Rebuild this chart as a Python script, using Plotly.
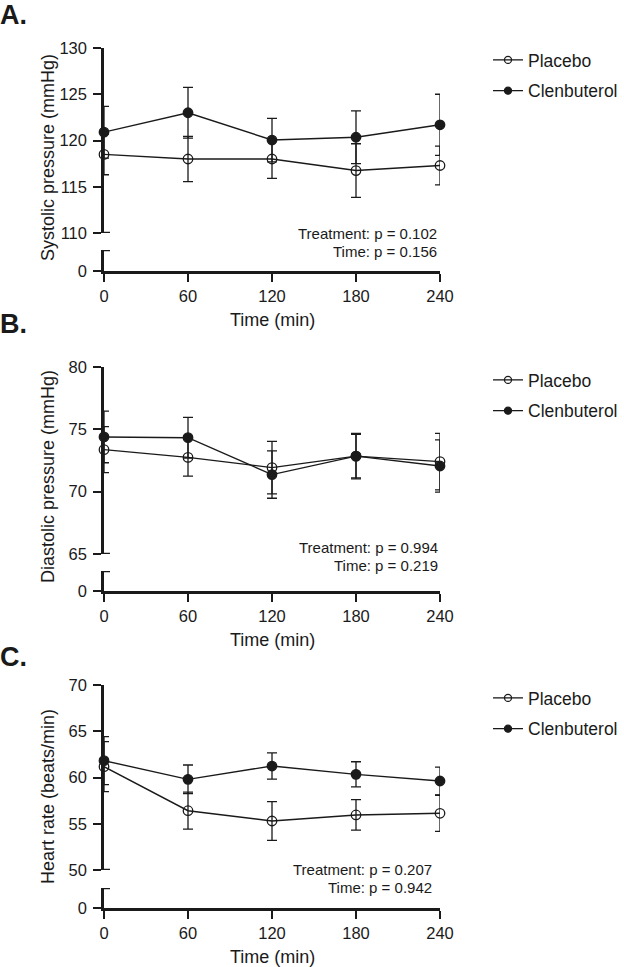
import plotly.graph_objects as go

W, H = 624, 967

time_min = [0, 60, 120, 180, 240]

# A. systolic pressure (mmHg)
sys_placebo = [118.5, 118.0, 118.0, 116.75, 117.3]
sys_placebo_sem = [2.2, 2.45, 2.1, 2.9, 2.1]
sys_clen = [120.9, 123.0, 120.05, 120.35, 121.7]
sys_clen_sem = [2.8, 2.75, 2.35, 2.85, 3.3]

# B. diastolic pressure (mmHg)
dia_placebo = [73.37, 72.75, 71.93, 72.85, 72.41]
dia_placebo_sem = [1.85, 1.5, 2.1, 1.75, 2.27]
dia_clen = [74.39, 74.33, 71.37, 72.85, 72.06]
dia_clen_sem = [2.07, 1.63, 1.9, 1.82, 2.09]

# C. heart rate (beats/min)
hr_placebo = [61.17, 56.41, 55.3, 55.95, 56.13]
hr_placebo_sem = [2.7, 2.0, 2.1, 1.65, 1.95]
hr_clen = [61.82, 59.8, 61.24, 60.34, 59.62]
hr_clen_sem = [2.6, 1.55, 1.42, 1.36, 1.5]

panel_letters = ["A.", "B.", "C."]
y_titles = ["Systolic pressure (mmHg)", "Diastolic pressure (mmHg)", "Heart rate (beats/min)"]
y_ranges = [(110, 130), (65, 80), (50, 70)]
p_treatment = ["0.102", "0.994", "0.207"]
p_time = ["0.156", "0.219", "0.942"]

FONT = "Liberation Sans, Arial, sans-serif"
INK = "#1a1a1a"


def fx(px):
    return px / W


def fy(py):
    return 1 - py / H


# pixel geometry of each panel: upper axis top/bottom, lower segment top/bottom
geom = [
    dict(up_top=48, up_bot=233, lo_top=250, lo_bot=271, letter_y=15, ytitle_y=158,
         xtitle_y=320, p_y=(233, 251), p_x=439, leg_y=62),
    dict(up_top=367, up_bot=554, lo_top=571, lo_bot=591, letter_y=324, ytitle_y=477,
         xtitle_y=640, p_y=(547, 565), p_x=440, leg_y=382),
    dict(up_top=685, up_bot=870, lo_top=888, lo_bot=908, letter_y=657, ytitle_y=797,
         xtitle_y=957, p_y=(869, 887), p_x=434, leg_y=700),
]

series = [
    (sys_placebo, sys_placebo_sem, sys_clen, sys_clen_sem),
    (dia_placebo, dia_placebo_sem, dia_clen, dia_clen_sem),
    (hr_placebo, hr_placebo_sem, hr_clen, hr_clen_sem),
]

fig = go.Figure()
layout = {}
shapes = []
annotations = []

x_dom = [fx(104), fx(440)]

for i in range(3):
    g = geom[i]
    xn = "" if i == 0 else str(i + 1)
    yu = str(2 * i + 1) if i > 0 else ""
    yl = str(2 * i + 2)
    xref, yuref, ylref = "x" + xn, "y" + yu, "y" + yl
    leg = "legend" if i == 0 else "legend" + str(i + 1)

    pl, pl_e, cl, cl_e = series[i]
    for name, vals, err, sym in [
        ("Placebo", pl, pl_e, "circle-open"),
        ("Clenbuterol", cl, cl_e, "circle"),
    ]:
        fig.add_trace(go.Scatter(
            x=time_min, y=vals, mode="lines+markers", name=name,
            xaxis=xref, yaxis=yuref, showlegend=False, cliponaxis=False,
            line=dict(color=INK, width=1.4),
            marker=dict(symbol=sym, size=9.5, color=INK, line=dict(color=INK, width=1.3)),
            error_y=dict(type="data", array=err, visible=True, color=INK, thickness=1.3, width=5),
        ))
        # legend entry with the smaller legend symbol
        fig.add_trace(go.Scatter(
            x=[None], y=[None], mode="lines+markers", name=name,
            xaxis=xref, yaxis=yuref, legend=leg, legendgroup=f"{i}-{name}",
            line=dict(color=INK, width=1.3),
            marker=dict(symbol=sym, size=7, color=INK, line=dict(color=INK, width=1.3)),
        ))

    lo, hi = y_ranges[i]
    axis_common = dict(
        showline=True, linewidth=2.5, linecolor=INK, ticks="outside", ticklen=8,
        tickwidth=2, tickcolor=INK, showgrid=False, zeroline=False, automargin=False,
        tickfont=dict(size=16.5, color=INK, family=FONT), fixedrange=True,
    )
    layout["xaxis" + xn] = dict(
        domain=x_dom, range=[0, 240], anchor=ylref, tickvals=time_min, **axis_common
    )
    layout["yaxis" + yu] = dict(
        domain=[fy(g["up_bot"]), fy(g["up_top"])], range=[lo, hi], anchor=xref,
        tickvals=list(range(lo, hi + 1, 5)), ticklabelstandoff=3, **axis_common
    )
    layout["yaxis" + yl] = dict(
        domain=[fy(g["lo_bot"]), fy(g["lo_top"])], range=[0, 1], anchor=xref,
        tickvals=[0], ticklabelstandoff=3, **axis_common
    )

    # caps at the axis break
    for yr, yv in [(yuref, lo), (ylref, 1)]:
        shapes.append(dict(
            type="line", xref=xref, yref=yr, xsizemode="pixel", xanchor=0,
            x0=-6, x1=6, y0=yv, y1=yv, line=dict(color=INK, width=2.5), layer="above",
        ))

    annotations.append(dict(
        text="<b>" + panel_letters[i] + "</b>", x=fx(-2), y=fy(g["letter_y"]), xref="paper",
        yref="paper", xanchor="left", yanchor="middle", showarrow=False,
        font=dict(size=27, color=INK, family=FONT),
    ))
    annotations.append(dict(
        text=y_titles[i], x=fx(48), y=fy(g["ytitle_y"]), xref="paper", yref="paper",
        textangle=-90, xanchor="center", yanchor="middle", showarrow=False,
        font=dict(size=18, color=INK, family=FONT),
    ))
    annotations.append(dict(
        text="Time (min)", x=fx(272), y=fy(g["xtitle_y"]), xref="paper", yref="paper",
        xanchor="center", yanchor="middle", showarrow=False,
        font=dict(size=18, color=INK, family=FONT),
    ))
    for txt, py in [("Treatment: p = " + p_treatment[i], g["p_y"][0]),
                    ("Time: p = " + p_time[i], g["p_y"][1])]:
        annotations.append(dict(
            text=txt, x=fx(g["p_x"]), y=fy(py), xref="paper", yref="paper",
            xanchor="right", yanchor="middle", showarrow=False,
            font=dict(size=15, color=INK, family=FONT),
        ))

    layout[leg] = dict(
        x=fx(488), y=fy(g["leg_y"] - 20), xanchor="left", yanchor="top",
        bgcolor="rgba(0,0,0,0)", font=dict(size=17.5, color=INK, family=FONT),
        tracegroupgap=5, borderwidth=0,
    )

fig.update_layout(
    width=W, height=H, autosize=False, template="none",
    margin=dict(l=0, r=0, t=0, b=0),
    paper_bgcolor="white", plot_bgcolor="white",
    font=dict(family=FONT, color=INK),
    shapes=shapes, annotations=annotations,
    **layout,
)

# page body has a default 8px margin; remove it so the figure fills the window
fig.write_html(
    "out.html",
    config={"displayModeBar": False},
    post_script="document.body.style.margin='0';",
)
